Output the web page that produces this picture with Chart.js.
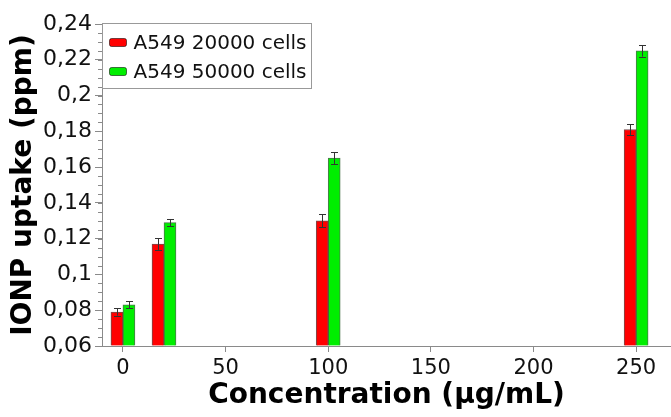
<!DOCTYPE html>
<html>
<head>
<meta charset="utf-8">
<script src="https://cdn.jsdelivr.net/npm/chart.js@4.4.1/dist/chart.umd.min.js"></script>
<style>
  html, body { margin: 0; padding: 0; background: #fff; }
  #wrap { width: 671px; height: 417px; position: relative; }
</style>
</head>
<body>
<div id="wrap"><canvas id="c" width="671" height="417"></canvas></div>
<script>
// ---- data ----
const concentrations = [0, 20, 100, 250];
const seriesLabels = ['A549 20000 cells', 'A549 50000 cells'];
const uptake20000 = [0.079, 0.117, 0.130, 0.181];
const err20000 = [0.002, 0.0033, 0.0037, 0.003];
const uptake50000 = [0.083, 0.129, 0.165, 0.225];
const err50000 = [0.002, 0.002, 0.0034, 0.0032];
const xTickValues = [0, 50, 100, 150, 200, 250];
const xTickLabels = ['0', '50', '100', '150', '200', '250'];
const yTickValues = [0.06, 0.08, 0.10, 0.12, 0.14, 0.16, 0.18, 0.20, 0.22, 0.24];
const yTickLabels = ['0,06', '0,08', '0,1', '0,12', '0,14', '0,16', '0,18', '0,2', '0,22', '0,24'];
const yMinorStep = 0.005;
const xMin = -10.2, xMax = 267, yMin = 0.06, yMax = 0.24;
const xTitle = 'Concentration (µg/mL)';
const yTitle = 'IONP uptake (ppm)';

const FONT = "'DejaVu Sans', Verdana, sans-serif";
const AXIS = '#8a8a8a';

function pts(xs, ys) { return xs.map((x, i) => ({ x: x, y: ys[i] })); }

const errorBarPlugin = {
  id: 'errorBars',
  afterDatasetsDraw(chart) {
    const ctx = chart.ctx;
    const y = chart.scales.y;
    const errs = [err20000, err50000];
    ctx.save();
    ctx.strokeStyle = '#333';
    ctx.lineWidth = 1;
    chart.data.datasets.forEach((ds, di) => {
      const meta = chart.getDatasetMeta(di);
      meta.data.forEach((bar, i) => {
        const v = ds.data[i].y, e = errs[di][i];
        const cx = Math.round(bar.x) + 0.5;
        const yt = y.getPixelForValue(v + e), yb = y.getPixelForValue(v - e);
        ctx.beginPath();
        ctx.moveTo(cx, yt); ctx.lineTo(cx, yb);
        ctx.moveTo(cx - 3.5, Math.round(yt) + 0.5); ctx.lineTo(cx + 3.5, Math.round(yt) + 0.5);
        ctx.moveTo(cx - 3.5, Math.round(yb) + 0.5); ctx.lineTo(cx + 3.5, Math.round(yb) + 0.5);
        ctx.stroke();
      });
    });
    ctx.restore();
  }
};

const minorTickPlugin = {
  id: 'minorTicks',
  afterDraw(chart) {
    const ctx = chart.ctx;
    const y = chart.scales.y;
    const left = chart.chartArea.left;
    ctx.save();
    ctx.strokeStyle = AXIS;
    ctx.lineWidth = 1;
    ctx.beginPath();
    const n = Math.round((yMax - yMin) / yMinorStep);
    for (let k = 0; k <= n; k++) {
      const v = yMin + k * yMinorStep;
      const py = Math.round(y.getPixelForValue(v)) + 0.5;
      ctx.moveTo(left - 4, py); ctx.lineTo(left, py);
    }
    ctx.stroke();
    ctx.restore();
  }
};

const boxLegendPlugin = {
  id: 'boxLegend',
  afterDraw(chart) {
    const ctx = chart.ctx;
    const a = chart.chartArea;
    const x0 = a.left + 0.5, y0 = a.top - 0.5, w = 209, h = 65;
    ctx.save();
    ctx.fillStyle = '#fff';
    ctx.fillRect(x0, y0, w, h);
    ctx.strokeStyle = '#999';
    ctx.lineWidth = 1;
    ctx.strokeRect(x0, y0, w, h);
    ctx.font = '20px ' + FONT;
    ctx.textBaseline = 'middle';
    chart.data.datasets.forEach((ds, i) => {
      const cy = y0 + 19 + i * 29;
      ctx.fillStyle = ds.backgroundColor;
      ctx.strokeStyle = 'rgba(0,0,0,0.55)';
      ctx.beginPath();
      if (ctx.roundRect) ctx.roundRect(x0 + 7, cy - 4, 17, 8, 2); else ctx.rect(x0 + 7, cy - 4, 17, 8);
      ctx.fill(); ctx.stroke();
      ctx.fillStyle = '#111';
      ctx.fillText(ds.label, x0 + 31, cy + 1);
    });
    ctx.restore();
  }
};

new Chart(document.getElementById('c'), {
  type: 'bar',
  data: {
    datasets: [
      { label: seriesLabels[0], data: pts(concentrations, uptake20000), backgroundColor: '#ff0000',
        borderColor: 'rgba(60,0,0,0.7)', borderWidth: 1, base: yMin, barThickness: 12 },
      { label: seriesLabels[1], data: pts(concentrations, uptake50000), backgroundColor: '#00ee00',
        borderColor: 'rgba(0,60,0,0.7)', borderWidth: 1, base: yMin, barThickness: 12 }
    ]
  },
  options: {
    responsive: false,
    animation: false,
    devicePixelRatio: 1,
    layout: { padding: { top: 24, right: 0, bottom: 0, left: 0 } },
    plugins: { legend: { display: false }, tooltip: { enabled: false } },
    scales: {
      x: {
        type: 'linear', min: xMin, max: xMax, offset: false,
        afterBuildTicks(s) { s.ticks = xTickValues.map(v => ({ value: v })); },
        afterFit(s) { s.height = 71; },
        grid: { offset: false, drawOnChartArea: false, tickLength: 6, color: AXIS, tickColor: AXIS },
        border: { color: AXIS, width: 1 },
        ticks: { color: '#111', font: { family: FONT, size: 21 }, padding: 4, maxRotation: 0,
          callback: (v, i) => xTickLabels[i] },
        title: { display: true, text: xTitle, color: '#000',
          font: { family: FONT, size: 28, weight: 'bold', lineHeight: 1 }, padding: { top: 0, bottom: 7 } }
      },
      y: {
        type: 'linear', min: yMin, max: yMax,
        afterBuildTicks(s) { s.ticks = yTickValues.map(v => ({ value: v })); },
        afterFit(s) { s.width = 102; },
        grid: { offset: false, drawOnChartArea: false, tickLength: 7, color: AXIS, tickColor: AXIS },
        border: { color: AXIS, width: 1 },
        ticks: { color: '#111', font: { family: FONT, size: 22 }, padding: 3,
          callback: (v, i) => yTickLabels[i] },
        title: { display: true, text: yTitle, color: '#000',
          font: { family: FONT, size: 28, weight: 'bold', lineHeight: 1 }, padding: { top: 10, bottom: 0 } }
      }
    }
  },
  plugins: [errorBarPlugin, minorTickPlugin, boxLegendPlugin]
});
</script>
</body>
</html>
